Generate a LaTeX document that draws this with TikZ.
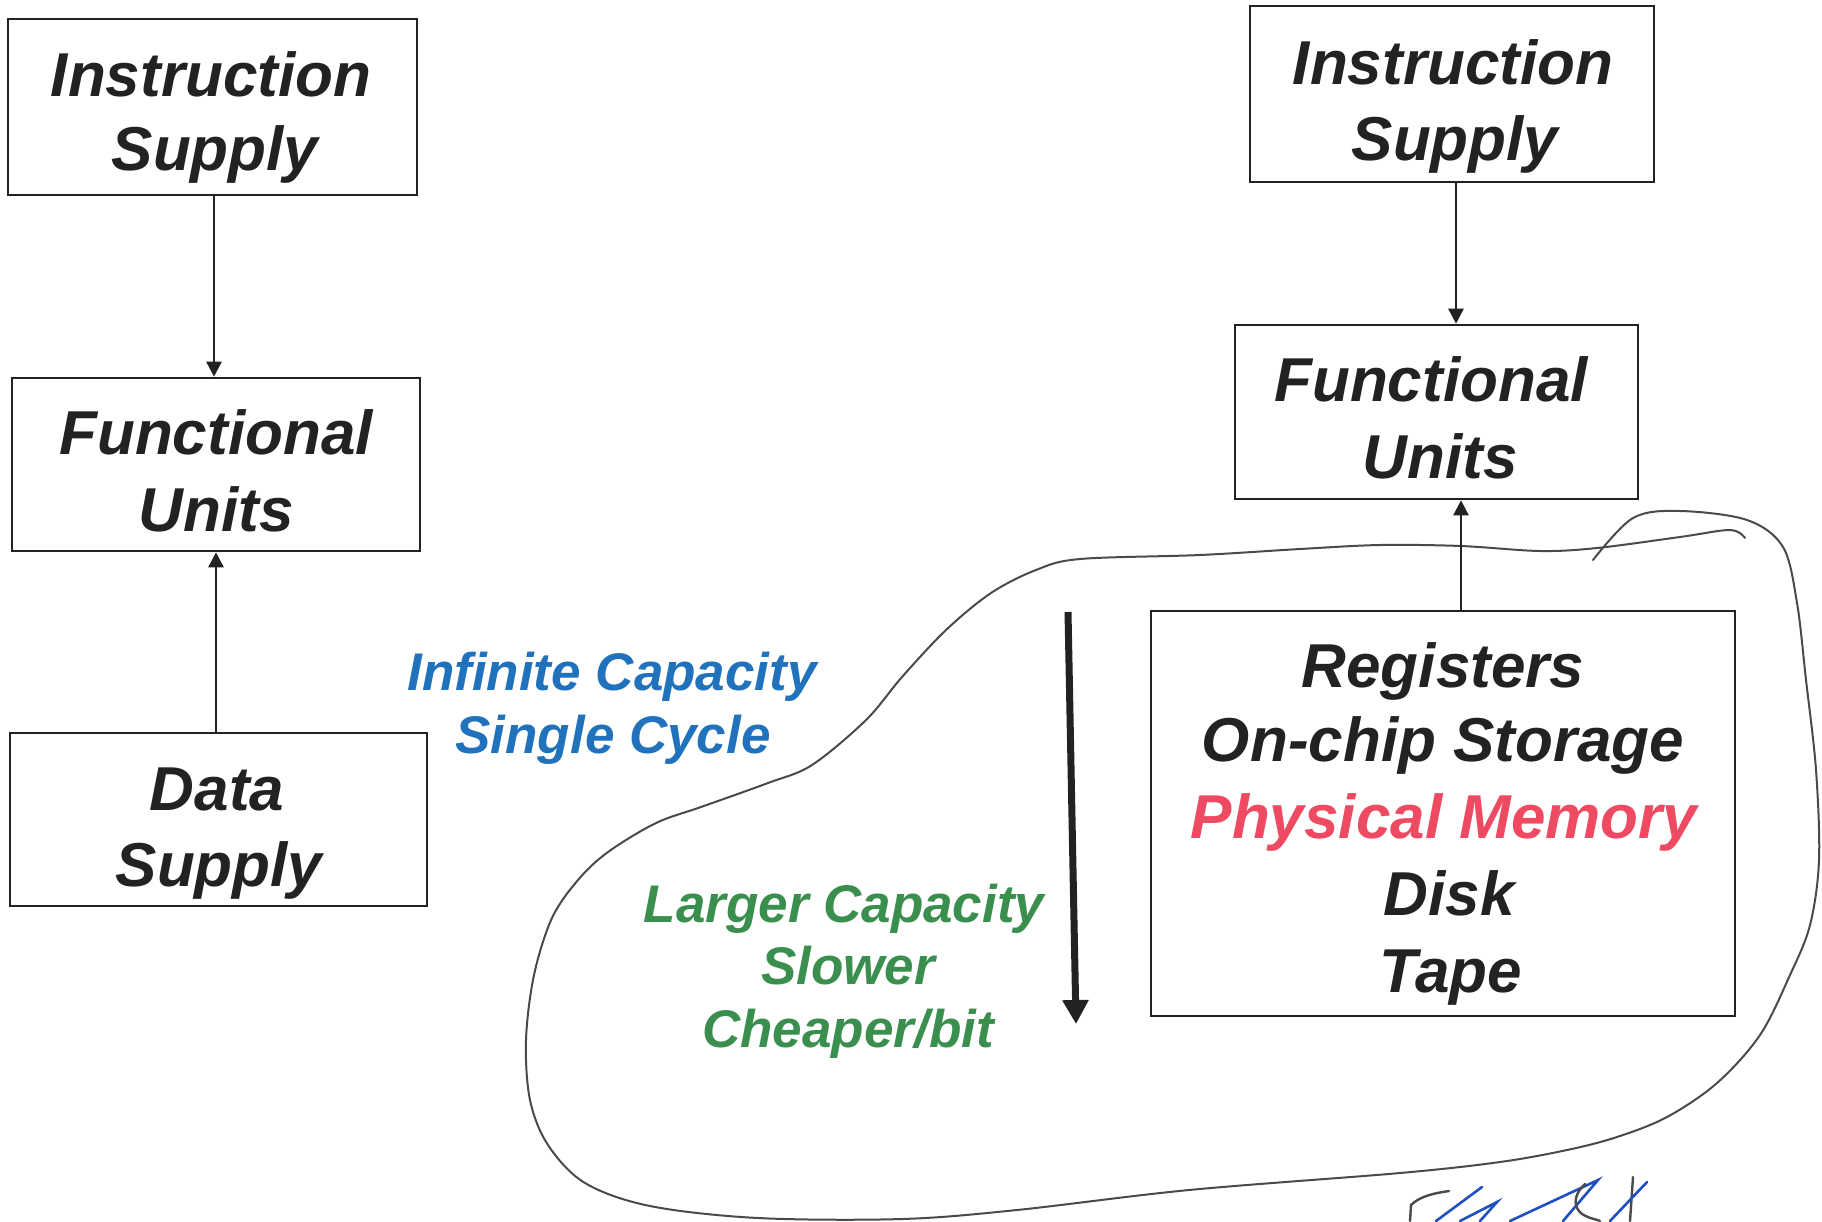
\documentclass[tikz,border=0pt]{standalone}
\usepackage{fontspec}
\setmainfont{Liberation Sans}
\usetikzlibrary{arrows.meta}
\definecolor{ink}{HTML}{222222}
\definecolor{blueTxt}{HTML}{1F72BB}
\definecolor{greenTxt}{HTML}{3A8F4E}
\definecolor{redTxt}{HTML}{EE4A62}
\definecolor{pencil}{HTML}{4A4A4A}
\definecolor{penblue}{HTML}{1F4FC0}
\begin{document}
\begin{tikzpicture}[x=1pt,y=-1pt,
  box/.style={draw=ink, line width=2.6pt, inner sep=0pt, fill=none},
  bigtxt/.style={anchor=base, inner sep=0pt, text=ink, font=\fontsize{62}{75}\selectfont\bfseries\itshape},
  midtxt/.style={anchor=base, inner sep=0pt, font=\fontsize{53}{63}\selectfont\bfseries\itshape},
  link/.style={draw=ink, line width=2.6pt, -{Triangle[width=15pt,length=15pt]}},
  bigarrow/.style={draw=ink, line width=7pt, -{Triangle[width=25pt,length=24pt]}},
  blob/.style={draw=pencil, line width=2pt, line cap=round, line join=round},
  sigblue/.style={draw=penblue, line width=2.6pt, line cap=round},
  sigblack/.style={draw=pencil, line width=2.4pt, line cap=round}
]
\useasboundingbox (0,0) rectangle (1822,1221);
\fill[white] (0,0) rectangle (1822,1221);

% ---- freehand enclosure ----
\draw[blob] plot[smooth, tension=0.55] coordinates {
 (1593,560) (1633,518) (1680,511) (1747,520) (1783,547) (1797,603) (1806,680)
 (1816,770) (1819,860) (1810,925) (1790,975) (1760,1035) (1717,1083) (1667,1117)
 (1617,1137) (1567,1150) (1500,1162) (1400,1173) (1189,1190) (1017,1210)
 (902,1219) (758,1218) (650,1206) (585,1183) (548,1145) (530,1100) (526,1040)
 (534,975) (552,918) (578,880) (608,852) (656,823) (701,807) (768,783)
 (812,765) (866,720) (902,677) (946,630) (991,593) (1036,570) (1080,559)
 (1200,555) (1300,549) (1380,545) (1461,546) (1540,551) (1597,548) (1680,537)
 (1730,530) (1745,538)};

% ---- left column ----
\node[box, minimum width=409pt, minimum height=176pt] (lis) at (212.5,107) {};
\node[box, minimum width=408pt, minimum height=173pt] (lfu) at (216,464.5) {};
\node[box, minimum width=417pt, minimum height=173pt] (lds) at (218.5,819.5) {};
\node[bigtxt] (lis1) at (211,96) {Instruction};
\node[bigtxt] (lis2) at (215,170) {Supply};
\node[bigtxt] (lfu1) at (216,454) {Functional};
\node[bigtxt] (lfu2) at (216,531) {Units};
\node[bigtxt] (lds1) at (217,810) {Data};
\node[bigtxt] (lds2) at (219,886) {Supply};
\draw[link] ([xshift=1.5pt]lis.south) -- ([xshift=1.5pt]lis.south |- lfu.north);
\draw[link] ([xshift=-2.5pt]lds.north) -- ([xshift=-2.5pt]lds.north |- lfu.south);

% ---- right column ----
\node[box, minimum width=404pt, minimum height=176pt] (ris) at (1452,94) {};
\node[box, minimum width=403pt, minimum height=174pt] (rfu) at (1436.5,412) {};
\node[box, minimum width=584pt, minimum height=405pt] (mem) at (1443,813.5) {};
\node[bigtxt] (ris1) at (1453,84) {Instruction};
\node[bigtxt] (ris2) at (1455,160) {Supply};
\node[bigtxt] (rfu1) at (1431,401) {Functional};
\node[bigtxt] (rfu2) at (1440,478) {Units};
\node[bigtxt] (m1) at (1443,687) {Registers};
\node[bigtxt] (m2) at (1443,761) {On-chip Storage};
\node[bigtxt, text=redTxt] (m3) at (1444,838) {Physical Memory};
\node[bigtxt] (m4) at (1449,915) {Disk};
\node[bigtxt] (m5) at (1451,992) {Tape};
\draw[link] ([xshift=4pt]ris.south) -- ([xshift=4pt]ris.south |- rfu.north);
\draw[link] ([xshift=18pt]mem.north) -- ([xshift=18pt]mem.north |- rfu.south);

% ---- side labels ----
\node[midtxt, text=blueTxt] (b1) at (612,690) {Infinite Capacity};
\node[midtxt, text=blueTxt] (b2) at (613,753) {Single Cycle};
\node[midtxt, text=greenTxt] (g1) at (844,922) {Larger Capacity};
\node[midtxt, text=greenTxt] (g2) at (848,984) {Slower};
\node[midtxt, text=greenTxt] (g3) at (848,1047) {Cheaper/bit};

\coordinate (ta) at (1068,612);
\coordinate (tb) at (1076,1024);
\draw[bigarrow] (ta) -- (tb);

% ---- signature scribble ----
\draw[sigblack] (1410,1221) -- (1411,1205) .. controls (1420,1196) and (1435,1193) .. (1449,1191);
\draw[sigblue] (1436,1221) -- (1482,1187);
\draw[sigblue] (1460,1221) -- (1497,1202) -- (1480,1221);
\draw[sigblue] (1510,1221) -- (1598,1180) -- (1563,1221);
\draw[sigblack] (1585,1184) .. controls (1572,1196) and (1574,1208) .. (1582,1214) .. controls (1590,1219) and (1596,1219) .. (1600,1221);
\draw[sigblack] (1633,1177) -- (1630,1221);
\draw[sigblue] (1647,1182) -- (1610,1221);
\end{tikzpicture}
\end{document}
